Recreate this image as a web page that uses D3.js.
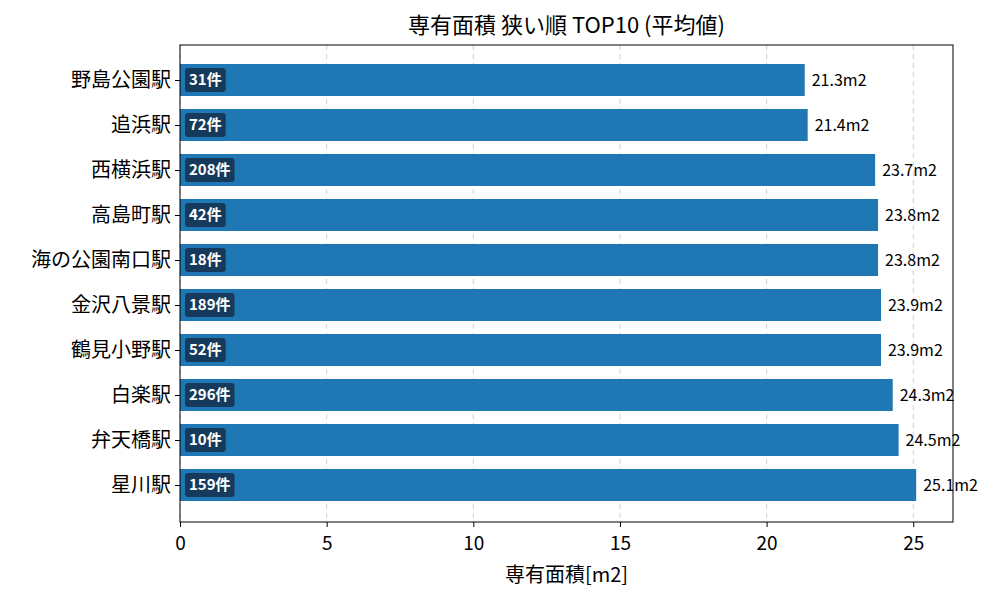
<!DOCTYPE html>
<html><head><meta charset="utf-8">
<script src="https://cdn.jsdelivr.net/npm/d3@7"></script>
<style>body{margin:0;background:#fff}text{font-family:"Noto Sans CJK JP","Noto Sans",sans-serif}</style>
</head><body><svg id="c" width="1000" height="600"></svg>
<script>
const stations=["野島公園駅","追浜駅","西横浜駅","高島町駅","海の公園南口駅","金沢八景駅","鶴見小野野駅".replace("野野","野"),"白楽駅","弁天橋駅","星川駅"];
const values=[21.3,21.4,23.7,23.8,23.8,23.9,23.9,24.3,24.5,25.1];
const counts=[31,72,208,42,18,189,52,296,10,159];
const xTicks=[0,5,10,15,20,25];
const svg=d3.select("#c");
const L=180,R=953,T=45,B=522;
const x=d3.scaleLinear().domain([0,26.355]).range([L,R]);
const y=d3.scaleLinear().domain([0,9]).range([80,485]);
const bh=32;
svg.append("g").selectAll("line").data(xTicks).join("line")
 .attr("x1",d=>x(d)).attr("x2",d=>x(d)).attr("y1",T).attr("y2",B)
 .attr("stroke","#b0b0b0").attr("stroke-dasharray","5,4").attr("stroke-width",0.8).attr("opacity",0.7);
svg.append("g").selectAll("rect").data(values).join("rect")
 .attr("x",x(0)).attr("y",(d,i)=>y(i)-bh/2).attr("width",d=>x(d)-x(0)).attr("height",bh).attr("fill","#1f77b4");
svg.append("rect").attr("x",L).attr("y",T).attr("width",R-L).attr("height",B-T).attr("fill","none").attr("stroke","#000").attr("stroke-width",1);
const ax=svg.append("g").attr("transform",`translate(0,${B})`).call(d3.axisBottom(x).tickValues(xTicks).tickFormat(d3.format("d")).tickSizeOuter(0));
ax.select(".domain").remove();
ax.selectAll("text").attr("font-size",19).attr("dy","1.0em").style("font-family","'Noto Sans CJK JP'");
ax.selectAll("line").attr("stroke","#000").attr("y2",5);
const ay=svg.append("g").attr("transform",`translate(${L},0)`).call(d3.axisLeft(y).tickValues(d3.range(10)).tickFormat(i=>stations[i]).tickSizeOuter(0));
ay.select(".domain").remove();
ay.selectAll("text").attr("font-size",20).attr("fill","#000").style("font-family","'Noto Sans CJK JP'");
ay.selectAll("line").attr("stroke","#000").attr("x2",-5);
// value labels
svg.append("g").selectAll("text").data(values).join("text")
 .attr("x",d=>x(d)+7).attr("y",(d,i)=>y(i)).attr("dy","0.35em").attr("font-size",16).text(d=>d.toFixed(1)+"m2");
// count badges
const g=svg.append("g").selectAll("g").data(counts).join("g");
g.each(function(d,i){
 const s=d3.select(this);
 const t=s.append("text").attr("x",189).attr("y",y(i)).attr("dy","0.35em").attr("font-size",15).attr("font-weight","bold").attr("fill","#fff").text(d+"件");
 const w=t.node().getComputedTextLength();
 s.insert("rect","text").attr("x",185).attr("y",y(i)-12).attr("width",w+8).attr("height",24).attr("rx",3).attr("fill","#163a5c");
});
svg.append("text").attr("x",(L+R)/2).attr("y",33).attr("text-anchor","middle").attr("font-size",22).text("専有面積 狭い順 TOP10 (平均値)");
svg.append("text").attr("x",(L+R)/2).attr("y",582).attr("text-anchor","middle").attr("font-size",20).text("専有面積[m2]");
</script></body></html>
